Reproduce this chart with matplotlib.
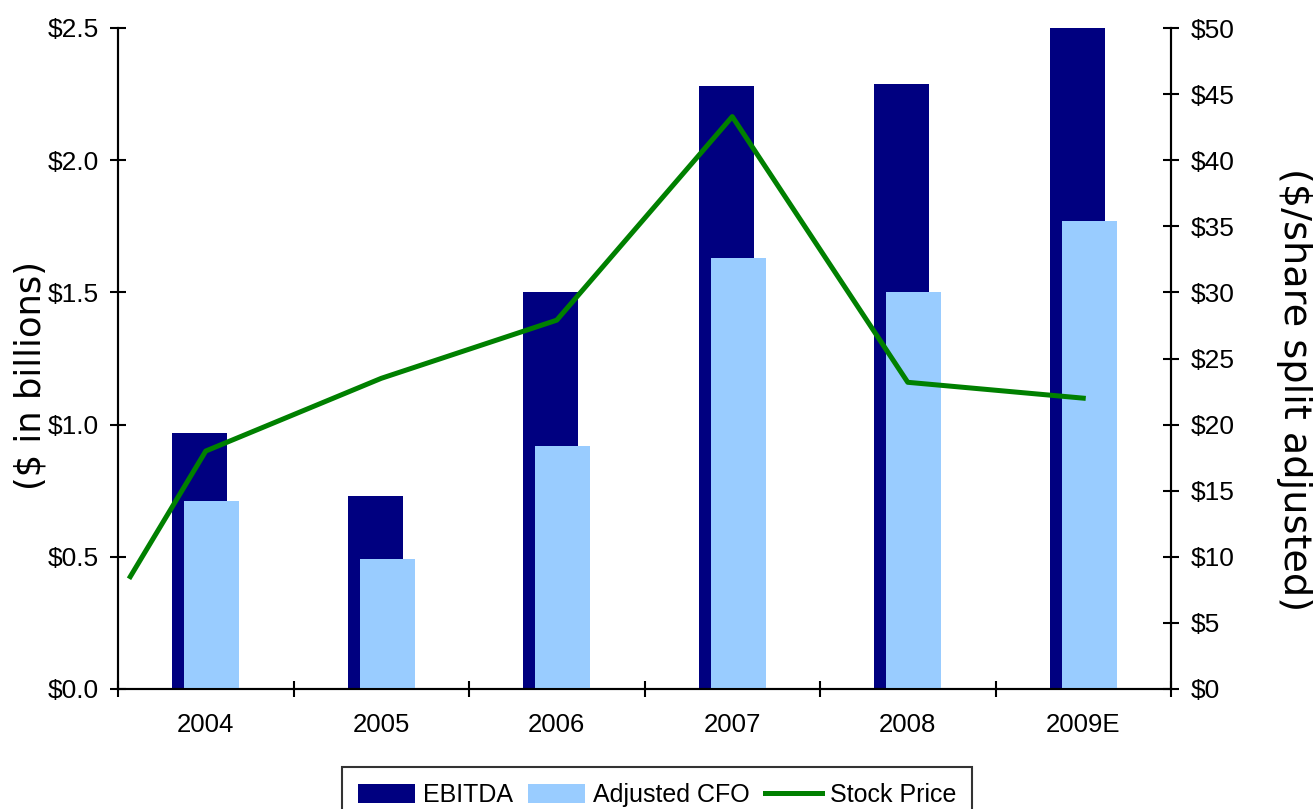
import matplotlib
matplotlib.use("Agg")
import matplotlib.pyplot as plt
import numpy as np
from matplotlib.ticker import FuncFormatter, MultipleLocator

years = ["2004", "2005", "2006", "2007", "2008", "2009E"]
ebitda = [0.97, 0.73, 1.50, 2.28, 2.29, 2.50]
adj_cfo = [0.71, 0.49, 0.92, 1.63, 1.50, 1.77]
stock_x = [-0.43, 0, 1, 2, 3, 4, 5]
stock_price = [8.5, 18.0, 23.5, 27.9, 43.3, 23.2, 22.0]

plt.rcParams['font.family'] = ['Liberation Sans', 'DejaVu Sans']

fig = plt.figure(figsize=(13.13, 8.09), dpi=100)
ax = fig.add_axes([118/1313, 1-689/809, (1171-118)/1313, (689-28)/809])
ax2 = ax.twinx()

x = np.arange(len(years))
w = 0.313
off = 0.034
b1 = ax.bar(x - off, ebitda, width=w, color="#000080", label="EBITDA", zorder=2)
b2 = ax.bar(x + off, adj_cfo, width=w, color="#99CCFF", label="Adjusted CFO", zorder=3)

ax.set_xlim(-0.5, len(years) - 0.5)
ax.set_ylim(0, 2.5)
ax.yaxis.set_major_locator(MultipleLocator(0.5))
ax.yaxis.set_major_formatter(FuncFormatter(lambda v, p: f"${v:.1f}"))
ax.set_xticks(np.arange(-0.5, len(years), 1.0))
ax.set_xticklabels([])
ax.set_xticks(x, minor=True)
ax.set_xticklabels(years, minor=True)
ax.tick_params(axis='x', which='minor', length=0, pad=17, labelsize=18.5)
ax.tick_params(axis='x', which='major', direction='inout', length=12, width=1.5)
ax.tick_params(axis='y', direction='inout', length=12, width=1.5, labelsize=19, pad=8)

ax2.set_ylim(0, 50)
ax2.yaxis.set_major_locator(MultipleLocator(5))
ax2.yaxis.set_major_formatter(FuncFormatter(lambda v, p: f"${v:.0f}"))
ax2.tick_params(axis='y', direction='inout', length=12, width=1.5, labelsize=19, pad=8)
line, = ax2.plot(stock_x, stock_price, color="#008000", lw=3.6, label="Stock Price",
                 solid_joinstyle='round', zorder=5)

for a in (ax, ax2):
    a.spines['top'].set_visible(False)
    for s in ('left', 'right', 'bottom'):
        a.spines[s].set_linewidth(1.5)
ax.patch.set_visible(False)
ax2.patch.set_visible(False)

fig.text(30/1313, 1-375/809, "($ in billions)", rotation=90, ha='center', va='center',
         fontsize=25.5, family='DejaVu Sans')
fig.text(1294/1313, 1-390/809, "($/share split adjusted)", rotation=270, ha='center', va='center',
         fontsize=27.5, family='DejaVu Sans')

leg = fig.legend([b1, b2, line], ["EBITDA", "Adjusted CFO", "Stock Price"],
                 loc='upper center', bbox_to_anchor=(657/1313, 1-767/809), ncol=3,
                 fontsize=18, frameon=True, fancybox=False, edgecolor='black',
                 handlelength=2.3, handletextpad=0.3, columnspacing=0.6,
                 borderpad=0.65, handleheight=0.8, borderaxespad=0)
leg.get_frame().set_linewidth(1.5)

fig.savefig("out.png", dpi=100)
